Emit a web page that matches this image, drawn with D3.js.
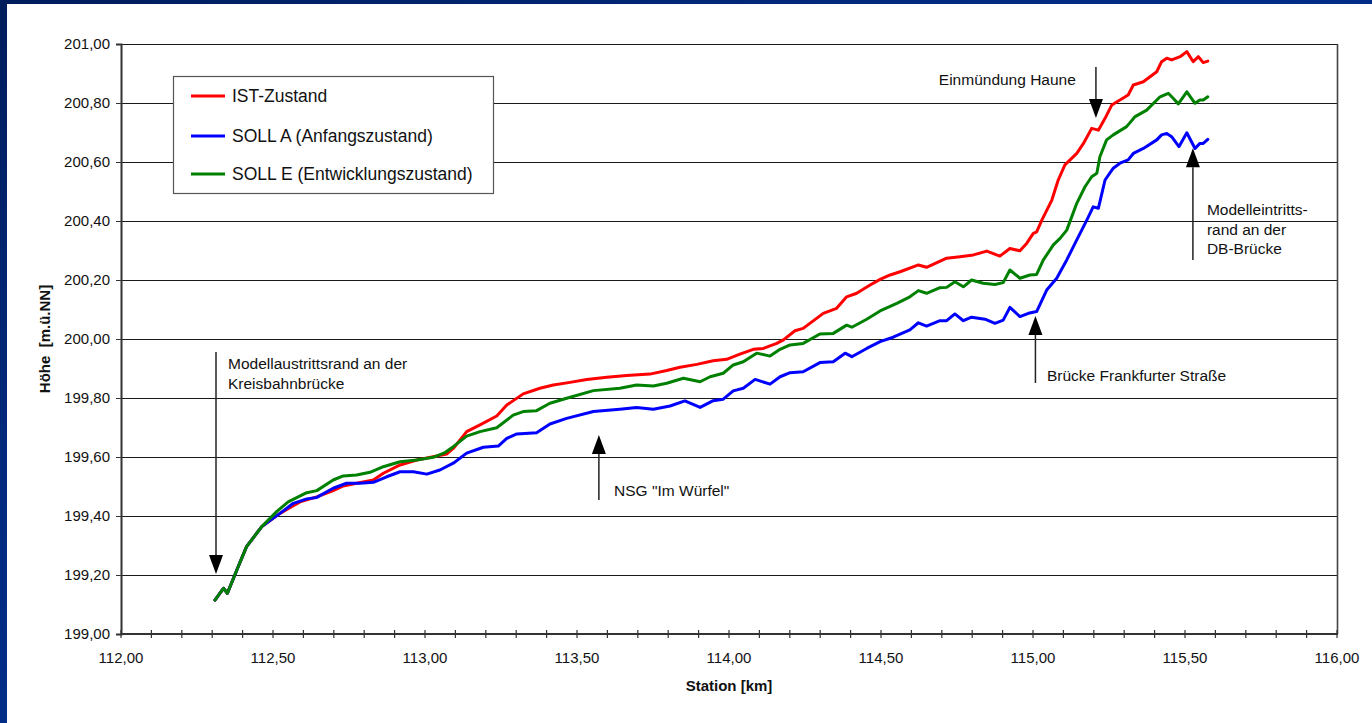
<!DOCTYPE html>
<html>
<head>
<meta charset="utf-8">
<script src="https://cdn.jsdelivr.net/npm/d3@7"></script>
<style>
  html, body { margin: 0; padding: 0; background: #fff; }
  svg { display: block; font-family: "Liberation Sans", Arial, Helvetica, sans-serif; }
</style>
</head>
<body>
<svg id="chart" width="1372" height="723"></svg>
<script>
// ---------- data ----------
const seriesNames = ["IST-Zustand", "SOLL A (Anfangszustand)", "SOLL E (Entwicklungszustand)"];
const seriesColors = ["#ff0000", "#0000ff", "#008000"];

const istKm = [112.309,112.337,112.350,112.381,112.413,112.463,112.523,112.589,112.644,112.698,112.731,112.775,112.830,112.863,112.918,112.973,113.027,113.071,113.093,113.137,113.181,113.236,113.269,113.323,113.378,113.422,113.477,113.532,113.598,113.663,113.740,113.795,113.839,113.894,113.948,113.992,114.036,114.080,114.113,114.157,114.179,114.217,114.244,114.310,114.354,114.387,114.420,114.464,114.497,114.530,114.563,114.623,114.650,114.716,114.760,114.804,114.848,114.891,114.924,114.957,114.979,115.001,115.012,115.029,115.062,115.083,115.105,115.144,115.166,115.193,115.215,115.237,115.259,115.286,115.313,115.330,115.363,115.407,115.423,115.440,115.456,115.484,115.506,115.527,115.544,115.560,115.575];
const istH = [199.115,199.155,199.138,199.217,199.296,199.364,199.409,199.448,199.465,199.486,199.502,199.511,199.522,199.545,199.573,199.590,199.601,199.610,199.629,199.686,199.709,199.739,199.776,199.814,199.833,199.844,199.853,199.863,199.870,199.876,199.881,199.893,199.904,199.914,199.926,199.931,199.949,199.965,199.968,199.985,199.997,200.028,200.036,200.087,200.104,200.143,200.155,200.183,200.202,200.217,200.228,200.251,200.243,200.274,200.279,200.285,200.298,200.281,200.307,200.299,200.324,200.358,200.363,200.403,200.471,200.539,200.590,200.629,200.663,200.714,200.708,200.748,200.793,200.810,200.827,200.861,200.872,200.906,200.940,200.952,200.946,200.957,200.974,200.940,200.957,200.937,200.942];

const sollAKm = [112.309,112.337,112.350,112.381,112.413,112.463,112.523,112.567,112.611,112.644,112.698,112.742,112.786,112.830,112.874,112.918,112.962,113.006,113.049,113.093,113.137,113.192,113.241,113.269,113.302,113.367,113.411,113.466,113.554,113.641,113.696,113.751,113.806,113.855,113.905,113.948,113.981,114.014,114.047,114.086,114.135,114.168,114.201,114.244,114.299,114.343,114.382,114.404,114.453,114.497,114.540,114.595,114.623,114.650,114.694,114.716,114.743,114.771,114.798,114.842,114.875,114.902,114.924,114.957,114.985,115.012,115.045,115.078,115.111,115.144,115.177,115.198,115.215,115.237,115.264,115.286,115.313,115.330,115.363,115.407,115.423,115.440,115.456,115.480,115.506,115.533,115.549,115.560,115.575];
const sollAH = [199.115,199.155,199.138,199.217,199.296,199.364,199.409,199.443,199.458,199.463,199.494,199.511,199.511,199.514,199.533,199.550,199.550,199.542,199.556,199.579,199.613,199.633,199.637,199.663,199.678,199.682,199.712,199.731,199.754,199.762,199.768,199.762,199.773,199.790,199.768,199.791,199.796,199.824,199.833,199.863,199.847,199.872,199.886,199.889,199.920,199.923,199.952,199.940,199.968,199.991,200.006,200.031,200.055,200.044,200.062,200.062,200.085,200.062,200.074,200.067,200.053,200.064,200.107,200.076,200.087,200.093,200.166,200.206,200.268,200.336,200.403,200.448,200.443,200.539,200.579,200.596,200.607,200.629,200.646,200.675,200.692,200.697,200.686,200.652,200.699,200.646,200.663,200.663,200.677];

const sollEKm = [112.309,112.337,112.350,112.381,112.413,112.463,112.512,112.550,112.611,112.644,112.698,112.731,112.775,112.819,112.863,112.918,112.973,113.027,113.066,113.093,113.137,113.181,113.236,113.290,113.323,113.367,113.411,113.466,113.554,113.641,113.696,113.751,113.795,113.850,113.905,113.938,113.981,114.014,114.047,114.091,114.135,114.168,114.201,114.244,114.299,114.343,114.387,114.404,114.453,114.497,114.552,114.595,114.623,114.650,114.694,114.716,114.743,114.771,114.798,114.836,114.875,114.902,114.924,114.957,114.990,115.012,115.034,115.067,115.089,115.111,115.144,115.171,115.193,115.210,115.220,115.242,115.264,115.308,115.336,115.374,115.418,115.445,115.461,115.478,115.506,115.533,115.549,115.560,115.575];
const sollEH = [199.115,199.155,199.138,199.217,199.296,199.364,199.415,199.448,199.479,199.486,199.522,199.536,199.539,199.548,199.567,199.584,199.590,199.599,199.615,199.635,199.671,199.686,199.699,199.742,199.754,199.757,199.782,199.799,199.825,199.833,199.844,199.841,199.850,199.867,199.855,199.872,199.884,199.912,199.923,199.952,199.942,199.965,199.980,199.985,200.017,200.019,200.047,200.040,200.067,200.095,200.121,200.143,200.164,200.155,200.174,200.175,200.194,200.177,200.200,200.189,200.185,200.191,200.234,200.206,200.217,200.219,200.268,200.319,200.341,200.369,200.460,200.516,200.550,200.562,200.618,200.675,200.692,200.720,200.754,200.776,200.821,200.833,200.816,200.797,200.838,200.799,200.810,200.810,200.821];

const xMajorTicks = [112.0,112.5,113.0,113.5,114.0,114.5,115.0,115.5,116.0];
const yTicks = [199.0,199.2,199.4,199.6,199.8,200.0,200.2,200.4,200.6,200.8,201.0];

// annotations: arrow station, arrow tail height, arrow tip height, text station, first text baseline height
const annotations = [
  { lines: ["Modellaustrittsrand an der", "Kreisbahnbrücke"], km: 112.3125, from: 199.956, to: 199.203, tKm: 112.352, tH: 199.898, anchor: "start" },
  { lines: ["NSG \"Im Würfel\""], km: 113.572, from: 199.454, to: 199.675, tKm: 113.622, tH: 199.468, anchor: "start" },
  { lines: ["Brücke Frankfurter Straße"], km: 115.008, from: 199.851, to: 200.078, tKm: 115.046, tH: 199.858, anchor: "start" },
  { lines: ["Einmündung Haune"], km: 115.207, from: 200.922, to: 200.749, tKm: 115.141, tH: 200.861, anchor: "end" },
  { lines: ["Modelleintritts-", "rand an der", "DB-Brücke"], km: 115.526, from: 200.268, to: 200.647, tKm: 115.572, tH: 200.420, anchor: "start" }
];

// ---------- drawing ----------
const svg = d3.select("#chart");
const W = 1372, H = 723;
const plot = { left: 121, right: 1337, top: 44, bottom: 634 };

const defs = svg.append("defs");
const grad = defs.append("linearGradient").attr("id", "bg").attr("x1", "0").attr("y1", "0").attr("x2", "1").attr("y2", "1");
grad.append("stop").attr("offset", "0").attr("stop-color", "#001d5c");
grad.append("stop").attr("offset", "0.35").attr("stop-color", "#002a80");
grad.append("stop").attr("offset", "1").attr("stop-color", "#0036a0");

svg.append("rect").attr("width", W).attr("height", H).attr("fill", "url(#bg)");
svg.append("rect").attr("x", 7).attr("y", 4).attr("width", W - 7).attr("height", H - 4).attr("fill", "#ffffff");

const x = d3.scaleLinear().domain([112, 116]).range([plot.left, plot.right]);
const y = d3.scaleLinear().domain([199, 201]).range([plot.bottom, plot.top]);

// gridlines
svg.append("g").selectAll("line").data(yTicks).join("line")
  .attr("x1", plot.left).attr("x2", plot.right)
  .attr("y1", d => Math.round(y(d)) + 0.5).attr("y2", d => Math.round(y(d)) + 0.5)
  .attr("stroke", "#1a1a1a").attr("stroke-width", 1);

// plot border (right side)
svg.append("line").attr("x1", plot.right + 0.5).attr("x2", plot.right + 0.5)
  .attr("y1", plot.top).attr("y2", plot.bottom)
  .attr("stroke", "#444").attr("stroke-width", 1.6);

// y axis
const yAxis = d3.axisLeft(y).tickValues(yTicks).tickSize(5).tickPadding(6)
  .tickFormat(d => d3.format(".2f")(d).replace(".", ","));
const gy = svg.append("g").attr("transform", `translate(${plot.left},0)`).call(yAxis);
gy.select(".domain").attr("stroke", "#333").attr("stroke-width", 2);
gy.selectAll(".tick line").attr("stroke", "#333");
gy.selectAll("text").attr("font-size", 15).attr("fill", "#111").attr("font-family", "'Liberation Sans', Arial, sans-serif");

// x axis with minor ticks crossing
const minorTicks = d3.range(0, 41).map(i => 112 + i * 0.1);
const gx = svg.append("g");
gx.append("line").attr("x1", plot.left).attr("x2", plot.right + 1)
  .attr("y1", plot.bottom).attr("y2", plot.bottom)
  .attr("stroke", "#333").attr("stroke-width", 2);
gx.selectAll("line.tk").data(minorTicks).join("line").attr("class", "tk")
  .attr("x1", d => x(d)).attr("x2", d => x(d))
  .attr("y1", plot.bottom - 4).attr("y2", plot.bottom + 4)
  .attr("stroke", "#333").attr("stroke-width", 1.2);
gx.selectAll("text").data(xMajorTicks).join("text")
  .attr("x", d => x(d)).attr("y", 663)
  .attr("text-anchor", "middle").attr("font-size", 15).attr("fill", "#111")
  .text(d => d3.format(".2f")(d).replace(".", ","));

// axis titles
svg.append("text").attr("x", (plot.left + plot.right) / 2).attr("y", 691)
  .attr("text-anchor", "middle").attr("font-size", 15).attr("font-weight", "bold").attr("fill", "#111")
  .text("Station [km]");
svg.append("text").attr("transform", `translate(50,${(plot.top + plot.bottom) / 2}) rotate(-90)`)
  .attr("text-anchor", "middle").attr("font-size", 15).attr("font-weight", "bold").attr("fill", "#111")
  .attr("xml:space", "preserve")
  .text("Höhe  [m.ü.NN]");

// series
const series = [
  { km: istKm, h: istH },
  { km: sollAKm, h: sollAH },
  { km: sollEKm, h: sollEH }
];
const line = d3.line().x(d => x(d[0])).y(d => y(d[1]));
const drawOrder = [0, 1, 2];
svg.append("g").selectAll("path").data(drawOrder).join("path")
  .attr("d", i => line(series[i].km.map((k, j) => [k, series[i].h[j]])))
  .attr("fill", "none").attr("stroke", i => seriesColors[i])
  .attr("stroke-width", 3).attr("stroke-linejoin", "round").attr("stroke-linecap", "round");

// annotations
const ga = svg.append("g");
annotations.forEach(a => {
  const ax = x(a.km), y0 = y(a.from), y1 = y(a.to);
  const dir = y1 > y0 ? 1 : -1;
  const headLen = 19, headW = 7;
  ga.append("line").attr("x1", ax).attr("x2", ax).attr("y1", y0).attr("y2", y1 - dir * headLen)
    .attr("stroke", "#222").attr("stroke-width", 1.5);
  ga.append("path")
    .attr("d", `M${ax},${y1} L${ax - headW},${y1 - dir * headLen} L${ax + headW},${y1 - dir * headLen} Z`)
    .attr("fill", "#000");
  const t = ga.append("text").attr("x", x(a.tKm)).attr("y", y(a.tH))
    .attr("text-anchor", a.anchor).attr("font-size", 15.5).attr("fill", "#111");
  a.lines.forEach((l, i) => {
    t.append("tspan").attr("x", x(a.tKm)).attr("dy", i === 0 ? 0 : 19.5).text(l);
  });
});

// legend
const lg = svg.append("g");
lg.append("rect").attr("x", 173.5).attr("y", 76.5).attr("width", 320).attr("height", 117)
  .attr("fill", "#fff").attr("stroke", "#555").attr("stroke-width", 1.2);
const legendY = [96, 136, 174];
seriesNames.forEach((n, i) => {
  lg.append("line").attr("x1", 191).attr("x2", 225).attr("y1", legendY[i]).attr("y2", legendY[i])
    .attr("stroke", seriesColors[i]).attr("stroke-width", 3);
  lg.append("text").attr("x", 232).attr("y", legendY[i] + 6).attr("font-size", 17.5).attr("fill", "#111").text(n);
});
</script>
</body>
</html>
